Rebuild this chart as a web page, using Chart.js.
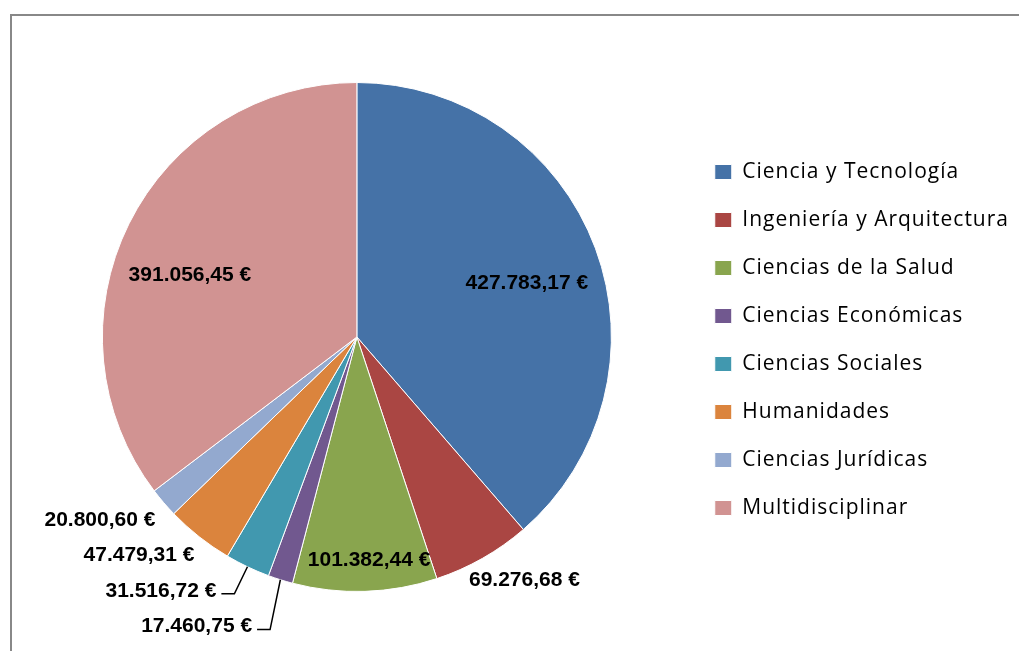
<!DOCTYPE html>
<html>
<head>
<meta charset="utf-8">
<script src="https://cdn.jsdelivr.net/npm/chart.js@4.4.1/dist/chart.umd.min.js"></script>
<style>
  html, body { margin: 0; padding: 0; background: #fff; overflow: hidden; }
  #wrap { position: relative; width: 1019px; height: 651px; }
  #frame { position: absolute; left: 10px; top: 14px; width: 1100px; height: 700px;
           border: 2px solid #888; pointer-events: none; }
</style>
</head>
<body>
<div id="wrap">
  <canvas id="pieChart" width="1019" height="651"></canvas>
  <div id="frame"></div>
</div>
<script>
const areas = ['Ciencia y Tecnología', 'Ingeniería y Arquitectura', 'Ciencias de la Salud',
    'Ciencias Económicas', 'Ciencias Sociales', 'Humanidades', 'Ciencias Jurídicas', 'Multidisciplinar'];
const importes = [427783.17, 69276.68, 101382.44, 17460.75, 31516.72, 47479.31, 20800.60, 391056.45];
const colores = ['#4572A7', '#AA4643', '#89A54E', '#71588F', '#4198AF', '#DB843D', '#93A9CF', '#D19392'];

// label placement per slice (radius factor, angle shift in degrees, alignment, leader line)
const labelRadius = [0.70, 1.16, 0.88, 1.21, 1.14, 1.07, 1.07, 0.70];
const labelShift = [3, -5, -1.3, 2.4, 3.5, -1.7, -1.7, -6];
const labelAlign = ['center', 'center', 'center', 'right', 'right', 'right', 'right', 'center'];
const labelLeader = [false, false, false, true, true, false, false, false];

function euros(v) {
    const parts = v.toFixed(2).split('.');
    const ent = parts[0].replace(/\B(?=(\d{3})+(?!\d))/g, '.');
    return ent + ',' + parts[1] + ' €';
}

// wider letter spacing for the legend text (Excel-like)
const espaciado = {
    id: 'espaciado',
    beforeLayout(chart) { chart.ctx.letterSpacing = '1px'; },
    beforeDraw(chart) { chart.ctx.letterSpacing = '1px'; }
};

const etiquetas = {
    id: 'etiquetas',
    afterDatasetsDraw(chart) {
        const ctx = chart.ctx;
        const arcs = chart.getDatasetMeta(0).data;
        ctx.save();
        ctx.letterSpacing = '0px';
        ctx.font = 'bold 21px "Liberation Sans", Arial, sans-serif';
        ctx.fillStyle = '#000';
        ctx.strokeStyle = '#000';
        ctx.lineWidth = 1.5;
        ctx.textBaseline = 'middle';
        arcs.forEach(function (arc, i) {
            const p = arc.getProps(['x', 'y', 'startAngle', 'endAngle', 'outerRadius'], true);
            const mid = (p.startAngle + p.endAngle) / 2;
            const a = mid + labelShift[i] * Math.PI / 180;
            const r = p.outerRadius * labelRadius[i];
            const lx = p.x + Math.cos(a) * r;
            const ly = p.y + Math.sin(a) * r;
            ctx.textAlign = labelAlign[i];
            ctx.fillText(euros(importes[i]), lx, ly);
            if (labelLeader[i]) {
                const ex = p.x + Math.cos(mid) * p.outerRadius;
                const ey = p.y + Math.sin(mid) * p.outerRadius;
                ctx.beginPath();
                ctx.moveTo(ex, ey);
                ctx.lineTo(lx + 18, ly + 3);
                ctx.lineTo(lx + 5, ly + 3);
                ctx.stroke();
            }
        });
        ctx.restore();
    }
};

new Chart(document.getElementById('pieChart').getContext('2d'), {
    type: 'pie',
    data: {
        labels: areas,
        datasets: [{
            data: importes,
            backgroundColor: colores,
            borderColor: '#ffffff',
            borderWidth: 1
        }]
    },
    options: {
        responsive: false,
        animation: false,
        layout: { padding: { left: 26, top: 82, bottom: 59, right: 0 } },
        plugins: {
            tooltip: { enabled: false },
            legend: {
                position: 'right',
                title: { display: true, text: '', font: { size: 5 }, padding: 0 },
                labels: {
                    color: '#000',
                    font: { family: '"Open Sans", Lato, sans-serif', size: 21 },
                    boxWidth: 17,
                    boxHeight: 15,
                    padding: 27
                }
            }
        }
    },
    plugins: [espaciado, etiquetas]
});
</script>
</body>
</html>
